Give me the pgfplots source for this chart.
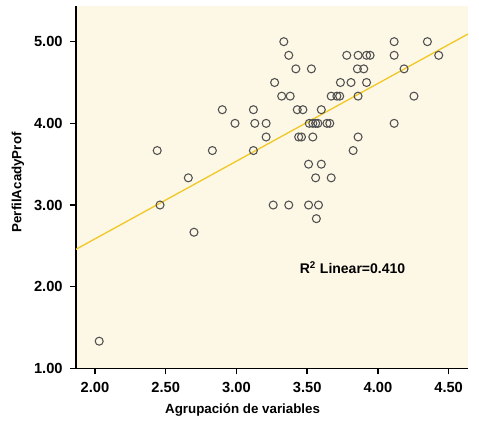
\documentclass[border=0pt]{standalone}
\usepackage{fontspec}
\setmainfont{Liberation Sans}
\usepackage{pgfplots}
\pgfplotsset{compat=1.18}
\definecolor{bgcream}{RGB}{253,248,230}
\definecolor{fitline}{RGB}{242,200,40}
\definecolor{markgray}{RGB}{80,80,80}
\begin{document}
\begin{tikzpicture}
\useasboundingbox (-57pt,-41pt) rectangle (302.25pt,276.3pt);
\begin{axis}[
  scale only axis,
  width=294pt, height=272pt,
  xmin=1.866, xmax=4.637,
  ymin=1.0, ymax=5.44,
  axis lines=left,
  axis line style={-, line width=1pt, black},
  axis background/.style={fill=bgcream},
  xtick={2,2.5,3,3.5,4,4.5},
  ytick={1,2,3,4,5},
  tick align=outside,
  major tick length=4.5pt,
  tick style={black, line width=1pt},
  /pgf/number format/assume math mode=true,
  /pgf/number format/.cd, fixed, fixed zerofill, precision=2,
  /pgfplots/.cd,
  ticklabel style={font=\fontsize{11}{13}\selectfont\bfseries},
  xticklabel style={yshift=-2pt},
  yticklabel style={xshift=-2pt},
  xlabel={Agrupación de variables},
  xlabel style={at={(axis description cs:0.425,0)}, anchor=base, yshift=-33.5pt,
    font=\fontsize{10}{12}\selectfont\bfseries},
  ylabel={PerfilAcadyProf},
  ylabel style={at={(axis description cs:-0.148,0.513)}, anchor=center,
    font=\fontsize{10}{12}\selectfont\bfseries},
  clip=true,
]
\addplot [fitline, line width=1pt] coordinates {
(1.866,2.458) (4.637,5.094)
};
\addplot [only marks, mark=o, mark size=3pt, mark options={markgray, line width=0.8pt}] coordinates {
(2.03,1.333)
(2.44,3.667)
(2.46,3.000)
(2.66,3.333)
(2.70,2.667)
(2.83,3.667)
(2.90,4.167)
(2.99,4.000)
(3.12,4.167)
(3.13,4.000)
(3.12,3.667)
(3.21,4.000)
(3.21,3.833)
(3.26,3.000)
(3.27,4.500)
(3.32,4.333)
(3.38,4.333)
(3.335,5.000)
(3.37,4.833)
(3.42,4.667)
(3.53,4.667)
(3.43,4.167)
(3.47,4.167)
(3.60,4.167)
(3.44,3.833)
(3.46,3.833)
(3.54,3.833)
(3.515,4.000)
(3.54,4.000)
(3.56,4.000)
(3.576,4.000)
(3.64,4.000)
(3.66,4.000)
(3.51,3.500)
(3.60,3.500)
(3.56,3.333)
(3.67,3.333)
(3.37,3.000)
(3.51,3.000)
(3.58,3.000)
(3.565,2.833)
(3.67,4.333)
(3.71,4.333)
(3.73,4.333)
(3.86,4.333)
(3.735,4.500)
(3.81,4.500)
(3.92,4.500)
(3.78,4.833)
(3.86,4.833)
(3.92,4.833)
(3.945,4.833)
(4.115,4.833)
(3.855,4.667)
(3.90,4.667)
(4.185,4.667)
(4.115,5.000)
(4.35,5.000)
(4.43,4.833)
(4.255,4.333)
(4.115,4.000)
(3.86,3.833)
(3.825,3.667)
};
\node[anchor=west, font=\fontsize{10.5}{12}\selectfont\bfseries] at (axis cs:3.415,2.23) {R\textsuperscript{2} Linear=0.410};
\end{axis}
\end{tikzpicture}
\end{document}
